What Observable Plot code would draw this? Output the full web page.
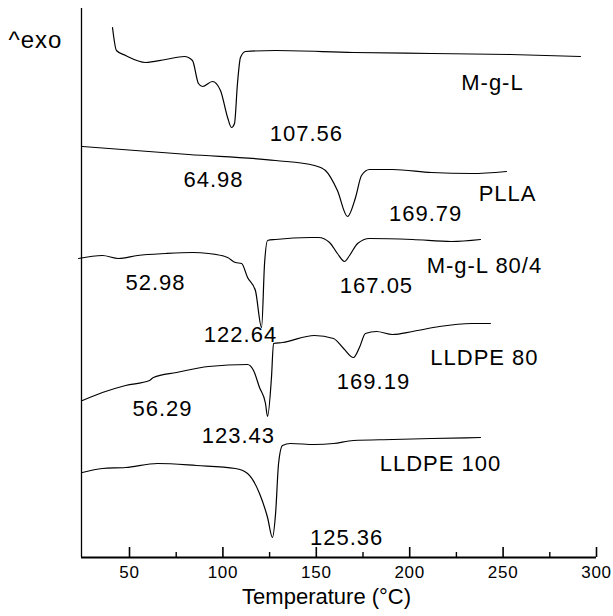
<!DOCTYPE html>
<html><head><meta charset="utf-8">
<script src="https://cdn.jsdelivr.net/npm/d3@7"></script>
<script src="https://cdn.jsdelivr.net/npm/@observablehq/plot@0.6"></script>
<style>body{margin:0;background:#fff}</style>
</head><body><div id="chart"></div>
<script>
// Temperatures (°C) and heat flow (arbitrary units, exo up)
const mglT = [40.9, 43.0, 47.9, 58.6, 69.3, 79.4, 83.7, 86.9, 89.1, 94.4, 98.7, 102.5, 104.6, 106.2, 107.8, 109.4, 112.1, 128.2, 169.9, 211.7, 254.0, 291.4];
const mglH = [530, 507, 502, 495, 498, 501, 497, 474, 471, 476, 467, 440, 430, 434, 474, 500, 506, 507, 505, 504, 503, 501];

const pllaT = [24.8, 81.6, 128.2, 149.0, 154.9, 161.3, 166.7, 171.0, 174.2, 178.5, 190.8, 211.7, 233.1, 251.8];
const pllaH = [411, 403, 397, 392, 387, 367, 341, 360, 382, 388, 388, 385, 384, 386];

const blendT = [22.7, 35.5, 44.1, 54.3, 69.3, 83.7, 92.3, 102.5, 106.7, 110.0, 113.2, 117.4, 120.7, 122.3, 123.9, 128.2, 146.9, 151.2, 157.1, 161.3, 165.1, 167.8, 172.1, 178.5, 201.5, 222.4, 237.9];
const blendH = [299, 302, 299, 302, 304, 305, 304, 300, 295, 294, 280, 267, 230, 294, 317, 318, 320, 320, 315, 304, 296, 302, 314, 319, 318, 316, 318];

const lldpe80T = [24.8, 35.5, 47.9, 60.7, 62.8, 75.2, 92.3, 113.2, 116.4, 119.6, 122.8, 123.9, 126.0, 127.1, 131.9, 149.0, 159.2, 164.6, 169.9, 173.1, 176.3, 182.2, 190.8, 201.5, 215.9, 233.1, 243.2];
const lldpe80H = [157, 165, 172, 177, 180, 185, 191, 193, 187, 170, 154, 141, 180, 214, 215, 222, 219, 209, 200, 210, 224, 226, 223, 226, 231, 234, 234];

const lldpe100T = [24.8, 35.5, 47.9, 65.0, 85.9, 106.7, 113.2, 119.6, 123.9, 126.5, 128.2, 129.8, 131.9, 136.2, 149.0, 159.2, 169.9, 190.8, 211.7, 237.9];
const lldpe100H = [85, 89, 90, 94, 92, 89, 84, 64, 40, 20, 44, 94, 112, 114, 113, 114, 117, 118, 119, 120];

const seriesNames = ["M-g-L", "PLLA", "M-g-L 80/4", "LLDPE 80", "LLDPE 100"];
const seriesT = [mglT, pllaT, blendT, lldpe80T, lldpe100T];
const seriesH = [mglH, pllaH, blendH, lldpe80H, lldpe100H];

// Annotations
const labelText = ["107.56", "M-g-L", "64.98", "PLLA", "169.79", "52.98", "M-g-L 80/4", "167.05", "122.64", "LLDPE 80", "169.19", "56.29", "123.43", "LLDPE 100", "125.36"];
const labelT = [144.7, 244.3, 95.0, 252.4, 208.5, 63.9, 240.0, 182.2, 109.4, 240.0, 180.6, 67.7, 108.3, 216.5, 166.2];
const labelH = [424, 475, 378, 364, 344, 275, 292, 272, 223, 200, 176, 149, 122, 94, 20];

const majorTicks = [50, 100, 150, 200, 250, 300];
const minorTicks = [75, 125, 175, 225, 275];
const xDomain = [24.3, 300];
const yDomain = [0, 549];
const xTitle = "Temperature (°C)";
const xTitleAt = 155.5;

const rows = seriesNames.flatMap((name, k) => seriesT[k].map((t, i) => ({series: name, t, h: seriesH[k][i]})));
const labels = labelText.map((s, i) => ({s, t: labelT[i], h: labelH[i]}));

const font = "'Liberation Sans', Arial, sans-serif";
const W = 613, H = 616, mt = 8, mb = 59, ml = 81, mr = 17;
const innerH = H - mt - mb;

const chart = Plot.plot({
  width: W, height: H,
  marginTop: mt, marginBottom: mb, marginLeft: ml, marginRight: mr,
  style: {fontFamily: font, background: "#fff", color: "#000"},
  x: {domain: xDomain},
  y: {domain: yDomain, axis: null},
  marks: [
    Plot.axisX({ticks: majorTicks, tickSize: 0, tickPadding: 8, fontSize: 17, label: null, tickFormat: d => String(d)}),
    Plot.ruleX(majorTicks, {x: d => d, insetTop: innerH - 10, stroke: "#000", strokeWidth: 1.6}),
    Plot.ruleX(minorTicks, {x: d => d, insetTop: innerH - 5, stroke: "#000", strokeWidth: 1.4}),
    Plot.ruleX([xDomain[0]], {stroke: "#000", strokeWidth: 1.3}),
    Plot.ruleY([yDomain[0]], {stroke: "#000", strokeWidth: 2}),
    Plot.line(rows, {x: "t", y: "h", z: "series", stroke: "#000", strokeWidth: 1.2, curve: "monotone-x", clip: false}),
    Plot.text(labels, {x: "t", y: "h", text: "s", fontSize: 22, fill: "#000"}),
    Plot.text([xTitle], {x: () => xTitleAt, frameAnchor: "bottom", dy: 46, fontSize: 22, fill: "#000"}),
    Plot.text(["^exo"], {frameAnchor: "top-left", textAnchor: "start", dx: -73, dy: 22, fontSize: 24, fill: "#000"})
  ]
});
// slightly wider letter spacing, as in the reference
const spaced = new Set([...labelText, "^exo"]);
d3.select(chart).selectAll("text").filter(function() { return spaced.has(this.textContent); }).style("letter-spacing", "1px");
d3.select(chart).selectAll("g[aria-label='x-axis tick label'] text").style("letter-spacing", "0.7px");
document.getElementById("chart").appendChild(chart);
</script>
</body></html>
